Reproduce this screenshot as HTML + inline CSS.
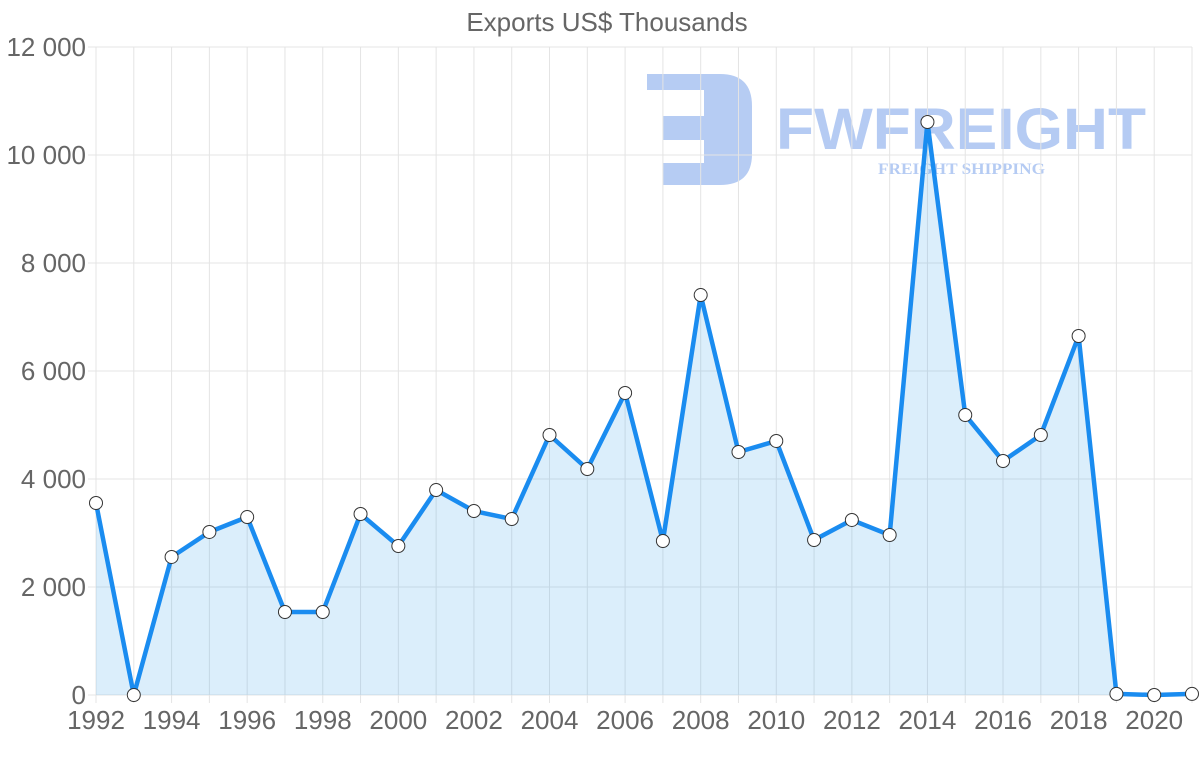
<!DOCTYPE html>
<html><head><meta charset="utf-8"><style>
body{margin:0;background:#fff;}
svg{display:block;font-family:"Liberation Sans",sans-serif;}
</style></head><body>
<svg id="chart" width="1200" height="763">
<g id="watermark" opacity="0.55">
  <path d="M647,74 H720 Q752,74 752,106 V154 Q752,185 720,185 H663 V163 H704 V140 H663 V116 H704 V90 H647 Z" fill="#7aa2ea"/>
  <text x="776" y="149" font-size="58" font-weight="bold" fill="#7aa2ea" textLength="370" lengthAdjust="spacingAndGlyphs">FWFREIGHT</text>
  <text x="878" y="174" font-size="16" font-weight="bold" font-family="Liberation Serif,serif" fill="#7aa2ea" textLength="167" lengthAdjust="spacingAndGlyphs">FREIGHT SHIPPING</text>
</g>
<text x="607" y="31" text-anchor="middle" font-size="26" fill="#666">Exports US$ Thousands</text>
<g id="grid"></g><g id="series"></g><g id="axes"></g>
</svg>
<script>
const years=[1992,1993,1994,1995,1996,1997,1998,1999,2000,2001,2002,2003,2004,2005,2006,2007,2008,2009,2010,2011,2012,2013,2014,2015,2016,2017,2018,2019,2020,2021];
const exportsValues=[3556,0,2556,3019,3296,1537,1537,3352,2759,3796,3407,3259,4815,4185,5593,2852,7407,4500,4704,2870,3241,2963,10611,5185,4333,4815,6648,20,0,20];
const yTicks=[0,2000,4000,6000,8000,10000,12000];
const yTickLabels=["0","2 000","4 000","6 000","8 000","10 000","12 000"];
const xTickLabels=["1992","1994","1996","1998","2000","2002","2004","2006","2008","2010","2012","2014","2016","2018","2020"];
const NS="http://www.w3.org/2000/svg";
const x0=96,x1=1192,yb=695,yt=47;
const xs=i=>x0+(x1-x0)*i/(years.length-1);
const ys=v=>yb-(yb-yt)*v/12000;
function mk(t,a,p){const e=document.createElementNS(NS,t);for(const k in a)e.setAttribute(k,a[k]);p.appendChild(e);return e;}
const grid=document.getElementById('grid'),axes=document.getElementById('axes'),ser=document.getElementById('series');
years.forEach((y,i)=>{const l=mk('line',{x1:xs(i),x2:xs(i),y1:yt,y2:yb+8,stroke:'#e4e4e4'},grid);

});
yTicks.forEach((v,i)=>{const l=mk('line',{x1:x0-8,x2:x1,y1:ys(v),y2:ys(v),stroke:'#e4e4e4'},grid);


const t=mk('text',{x:x0-10,y:ys(v)+9,'text-anchor':'end','font-size':26,fill:'#666'},axes);t.textContent=yTickLabels[i];

});
xTickLabels.forEach(lbl=>{const i=years.indexOf(+lbl);const t=mk('text',{x:xs(i),y:yb+34,'text-anchor':'middle','font-size':26,fill:'#666'},axes);t.textContent=lbl;

});
let d=exportsValues.map((v,i)=>(i?'L':'M')+xs(i)+','+ys(v)).join(' ');
const area=mk('path',{d:d+` L${xs(years.length-1)},${yb} L${x0},${yb} Z`,fill:'rgba(54,162,235,0.18)'},ser);


const line=mk('path',{d:d,fill:'none',stroke:'#1a8cf0','stroke-width':4.5,'stroke-linejoin':'round'},ser);


exportsValues.forEach((v,i)=>{const c=mk('circle',{cx:xs(i),cy:ys(v),r:6.5,fill:'#fff',stroke:'#333','stroke-width':1},ser);

});
</script>
</body></html>
